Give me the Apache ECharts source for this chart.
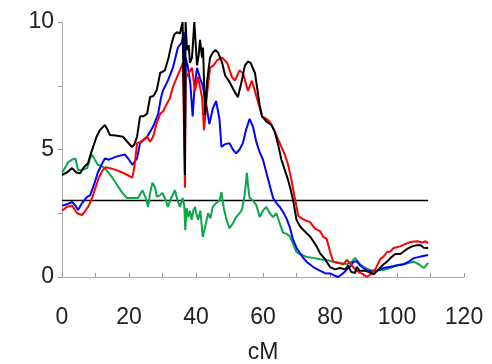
<!DOCTYPE html>
<html><head><meta charset="utf-8">
<script src="https://cdn.jsdelivr.net/npm/echarts@6/dist/echarts.min.js"></script>
<style>html,body{margin:0;padding:0;background:#fff}#c{width:492px;height:364px}</style>
</head><body><div id="c"></div>
<script>
var xTicks = [0, 20, 40, 60, 80, 100, 120];
var yTicks = [0, 5, 10];
var xName = 'cM';
var threshold = 3;
var thresholdRange = [0, 109.3];

var blackSeries = [[0,4.0],[1.5,4.1],[3,4.27],[4.3,4.1],[5.4,4.07],[6.5,4.3],[7.8,4.47],[8.5,4.8],[9.3,5.1],[10.3,5.5],[11.3,5.76],[12.8,5.96],[13.5,5.8],[14.3,5.57],[16,5.55],[18.2,5.5],[19.5,5.3],[20.9,5.1],[21.6,5.2],[22.4,5.5],[23.3,6.3],[24.3,6.3],[25.4,6.4],[26.3,7.06],[27.3,7.1],[28.3,7.33],[29.3,8.0],[30.7,8.1],[31.8,8.6],[32.8,9.2],[33.5,9.5],[34.3,9.6],[35.2,9.55],[36,10],[36.5,10],[36.7,4.0],[36.9,10],[37.3,8.9],[37.8,9.1],[38.2,8.4],[38.8,8.6],[39.5,10],[39.9,10],[40.3,8.3],[40.8,8.7],[41.2,9.3],[41.8,8.6],[42.1,9.0],[42.7,6.35],[43.3,7.65],[43.8,8.2],[44.2,8.6],[45,8.8],[45.8,8.9],[46.6,8.8],[47.8,8.4],[48.7,7.9],[50,7.65],[51.6,7.25],[52.5,7.05],[53.5,7.6],[54.6,8.3],[55.5,8.45],[56.3,8.4],[57.6,8.0],[59,6.75],[59.7,6.3],[61,6.1],[62.5,5.96],[63.5,5.7],[64.5,5.2],[65.5,4.6],[66.5,4.2],[67.5,3.8],[68.3,3.4],[69,3.0],[70,2.24],[71,2.0],[72,1.85],[73,1.72],[74,1.6],[75,1.4],[76,1.2],[77,0.94],[78.5,0.7],[80,0.39],[81.5,0.3],[83,0.35],[84.5,0.3],[85.5,0.45],[86.3,0.2],[87.5,0.16],[88,0.4],[88.8,0.25],[90,0.25],[91.5,0.2],[93,0.1],[94.5,0.3],[96,0.5],[97,0.6],[98,0.74],[99.5,0.9],[101,0.9],[103,1.1],[104.5,1.2],[106,1.25],[107,1.25],[108,1.15],[109.3,1.14]];

var redSeries = [[0,2.6],[1.5,2.75],[3,2.8],[4.5,2.5],[6,2.43],[7,2.6],[8,2.8],[9,3.1],[10,3.5],[11,3.9],[12.2,4.2],[13,4.3],[14.3,4.27],[16,4.2],[18,4.1],[19.5,4.0],[21,3.9],[21.6,4.3],[22.4,5.25],[23.5,5.3],[25.4,5.5],[26.3,5.3],[27.2,5.5],[28.2,6.0],[29.3,6.4],[30.2,6.5],[31.3,6.8],[32.2,7.0],[33.1,7.45],[34.2,7.8],[35.2,8.1],[36.1,8.4],[36.6,8.4],[36.7,3.5],[36.9,7.8],[37.3,7.85],[38.8,8.2],[39.7,7.3],[40.6,7.85],[41.8,7.05],[42.4,5.76],[43.3,7.2],[44.2,8.2],[45.2,8.3],[46.3,8.5],[47.8,8.6],[49.3,8.4],[50.7,7.85],[51.6,7.7],[53,8.1],[54,8.0],[55.5,7.3],[56.7,7.7],[58,7.1],[59.7,6.3],[61,6.2],[62,6.1],[63.2,5.8],[64.5,5.4],[65.5,5.1],[66.5,4.8],[67.5,4.4],[68.5,3.8],[69.5,3.1],[70.5,2.4],[71.5,2.3],[73,2.2],[74,2.16],[75.5,1.9],[77,1.8],[78,1.57],[79,1.5],[80,1.0],[81,0.6],[82.5,0.55],[84,0.5],[85,0.67],[86.5,0.45],[87.5,0.3],[89,0.16],[90,0.1],[91,0.0],[92,0.1],[93.5,0.3],[95,0.7],[96,0.8],[97,0.98],[98,1.0],[99,1.14],[101,1.2],[102.5,1.3],[104,1.37],[106,1.4],[107.5,1.35],[108.5,1.4],[109.3,1.33]];

var blueSeries = [[0,2.8],[1.5,2.85],[3,2.94],[4,2.8],[4.8,2.63],[6,2.9],[7.5,3.14],[8.4,3.2],[9.5,3.6],[10.7,4.1],[11.8,4.4],[12.8,4.65],[14,4.6],[15.8,4.7],[17,4.75],[18.8,4.8],[20,4.6],[21,4.4],[22.4,4.65],[23.3,5.25],[24.2,5.35],[25.4,5.5],[27.2,5.9],[28.7,6.4],[29.5,7.0],[30.1,7.3],[31.6,7.7],[33.1,8.2],[34.6,9.0],[35.8,9.2],[36.3,9.6],[36.6,9.4],[36.7,5],[36.9,8.6],[37.5,8.3],[38.3,7.6],[39,6.3],[39.6,7.5],[40.3,8.2],[41.2,7.8],[42,7.5],[43,6.8],[44,6.0],[45,6.6],[46,6.9],[47,6.2],[47.6,5.1],[48.5,5.2],[50,5.25],[51,5.0],[52,4.85],[53,5.0],[54,5.25],[55,5.8],[56,6.2],[57,5.9],[58,5.3],[59,4.9],[60,4.6],[61,4.1],[62,3.6],[63,3.1],[64,2.9],[65,2.75],[66,2.55],[67,2.3],[68,1.96],[69,1.45],[70,1.15],[71,0.94],[72,0.75],[73,0.6],[75,0.39],[77,0.25],[78.5,0.15],[80,0.14],[81.5,0.05],[82.4,0.0],[84,0.15],[85,0.3],[86,0.4],[87,0.6],[88,0.62],[89,0.45],[90,0.35],[91,0.27],[92.5,0.2],[94,0.25],[96,0.35],[98,0.4],[100,0.45],[102,0.5],[103.5,0.6],[105,0.74],[107,0.8],[109.3,0.86]];

var greenSeries = [[0,4.1],[1,4.3],[1.8,4.5],[3,4.6],[4,4.65],[4.8,4.2],[6,4.2],[7.5,4.27],[8.3,4.6],[9,4.8],[9.8,4.6],[10.7,4.4],[11.8,4.35],[12.8,4.27],[13.8,4.1],[15,3.9],[16.5,3.6],[18,3.3],[19.4,3.1],[21,3.1],[22.7,3.1],[24,3.4],[25,3.1],[25.7,2.75],[26.3,3.3],[27,3.7],[27.8,3.5],[28.3,3.15],[29.2,3.2],[30,3.3],[31,3.0],[31.6,2.75],[32.6,3.1],[33.7,3.4],[34.5,3.0],[35.2,2.75],[36,3.1],[36.5,2.8],[36.8,1.84],[37.2,2.7],[37.7,2.35],[38.2,2.6],[38.7,2.24],[39.2,2.6],[39.7,2.75],[40.1,2.5],[40.6,2.24],[41.3,2.6],[42,1.57],[42.8,2.0],[43.6,2.5],[44.3,2.3],[45,2.75],[46,2.9],[47,3.0],[47.6,3.33],[48.3,2.7],[49.2,2.2],[50,1.92],[51,2.1],[52,2.35],[53,2.5],[53.7,2.63],[54.5,3.2],[55.2,4.08],[55.6,3.5],[56,3.1],[57,3.0],[58,2.82],[59,2.35],[60,2.6],[61,2.75],[62,2.5],[63,2.35],[64,2.5],[65,2.1],[66,1.73],[67,1.7],[68,1.6],[69,1.3],[70,0.98],[71,0.9],[72,0.85],[73,0.78],[75,0.75],[77,0.7],[79,0.67],[81,0.6],[83,0.55],[85,0.5],[86.5,0.6],[87.5,0.75],[88,0.74],[89,0.5],[90,0.4],[92,0.27],[94,0.25],[96,0.27],[98,0.35],[100,0.47],[102,0.5],[103.5,0.55],[105,0.6],[106.5,0.5],[108,0.35],[109.3,0.55]];

var chart = echarts.init(document.getElementById('c'), null, {renderer: 'canvas'});
function line(data, color, z) {
  return {type: 'line', data: data, showSymbol: false, symbol: 'none', z: z,
    lineStyle: {color: color, width: 2}, itemStyle: {color: color}, animation: false};
}
chart.setOption({
  animation: false,
  grid: {left: 62, top: 22, right: 28, bottom: 87, containLabel: false, outerBoundsMode: 'none'},
  xAxis: {
    type: 'value', min: 0, max: 120, interval: 10,
    name: xName, nameLocation: 'middle', nameGap: 64,
    nameTextStyle: {fontFamily: 'Liberation Sans', fontSize: 23, color: '#222'},
    axisLine: {lineStyle: {color: '#aaa', width: 1}},
    axisTick: {inside: true, length: 4, lineStyle: {color: '#999'}},
    splitLine: {show: false},
    axisLabel: {margin: 29, fontFamily: 'Liberation Sans', fontSize: 23, color: '#222',
      formatter: function (v) { return xTicks.indexOf(v) >= 0 ? String(v) : ''; }}
  },
  yAxis: {
    type: 'value', min: 0, max: 10, interval: 2.5,
    axisLine: {show: true, lineStyle: {color: '#aaa', width: 1}},
    axisTick: {show: true, length: 4, lineStyle: {color: '#999'}},
    splitLine: {show: false},
    axisLabel: {margin: 8, fontFamily: 'Liberation Sans', fontSize: 23, color: '#222',
      formatter: function (v) { return yTicks.indexOf(v) >= 0 ? String(v) : ''; }}
  },
  series: [
    {type: 'line', data: thresholdRange.map(function (x) { return [x, threshold]; }),
      symbol: 'none', z: 1, lineStyle: {color: '#000', width: 1.5}, animation: false},
    line(greenSeries, '#0aa64a', 2),
    line(blueSeries, '#0000ff', 3),
    line(redSeries, '#ff0000', 4),
    line(blackSeries, '#000000', 5)
  ]
});
</script></body></html>
